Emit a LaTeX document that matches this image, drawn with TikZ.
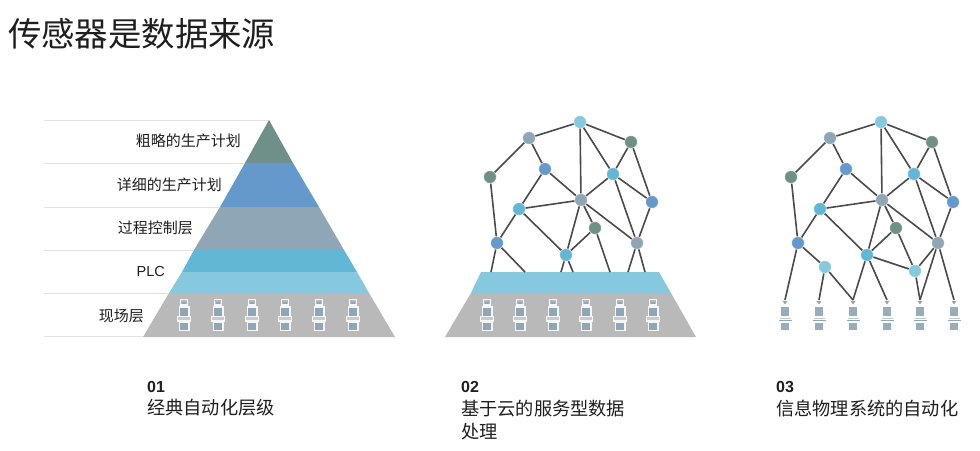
\documentclass[tikz,border=0pt]{standalone}
\usepackage{fontspec}
\setmainfont{Noto Sans CJK SC}
\newfontfamily\latinfont{Liberation Sans}
\definecolor{cgreen}{HTML}{6F9088}
\definecolor{cblue}{HTML}{6599CB}
\definecolor{cslate}{HTML}{8FA6B6}
\definecolor{ccyan}{HTML}{62B7D7}
\definecolor{clight}{HTML}{86C8DE}
\definecolor{cgray}{HTML}{B9B9B9}
\definecolor{crule}{HTML}{E2E2E2}
\definecolor{cedge}{HTML}{4A4A4A}
\definecolor{ctext}{HTML}{1E1E1E}
\tikzset{
  x=1pt,y=-1pt,
  rulerline/.style={draw=crule,line width=1pt},
  edge/.style={draw=cedge,line width=1.6pt},
  dot/.style={circle,minimum size=12.5pt,inner sep=0pt,draw=white,draw opacity=.35,line width=.8pt},
  lvl/.style={anchor=east,text=ctext,inner sep=0pt,font=\fontsize{15}{18}\selectfont},
  captxt/.style={anchor=west,text=ctext,inner sep=0pt,font=\fontsize{18.2}{22}\selectfont},
  capnum/.style={anchor=west,text=ctext,inner sep=0pt,font=\latinfont\bfseries\fontsize{16}{20}\selectfont},
  plainpart/.style={fill=cslate!92!white},
  sensorw/.pic={
    \draw[draw=white!90!cslate,line width=1.2pt] (-3.5,299.5) rectangle (3.5,305);
    \fill[cslate] (-2,301.5) rectangle (2,303.5);
    \fill[white!90!cslate] (-5.5,306) rectangle (5.5,331);
    \fill[cslate] (-3.6,307.5) rectangle (3.6,316);
    \fill[white!90!cslate] (-7.2,316) rectangle (7.2,321.5);
    \fill[cgray!75!white] (-6,317.4) rectangle (6,320);
    \fill[cslate] (-3.6,323) rectangle (3.6,329.5);
  },
  sensorg/.pic={
    \fill[cslate] (-2.5,301) -- (2.5,301) -- (0,304.5) -- cycle;
    \fill[plainpart] (-3.6,307) rectangle (3.6,316);
    \draw[cslate!60!white,line width=.7pt] (-5.5,318) -- (5.5,318);
    \draw[cslate,line width=.8pt] (-6.5,320.5) -- (6.5,320.5);
    \fill[plainpart] (-3.6,323) rectangle (3.6,330);
  },
}
\newcommand{\meshnodes}[2]{%
  \foreach \nm/\px/\py/\cl in {top/580/122/clight,a/529/138/cslate,b/631/142/cgreen,c/490/177/cgreen,d/545/169/cblue,e/613/174/ccyan,f/652/202/cblue,g/581/200/cslate,h/519/209/ccyan,i/595/228/cgreen,j/497/243/cblue,k/566/255/ccyan,l/637/243/cslate}{
    \pgfmathsetmacro{\qx}{\px+#2}
    \node[dot,fill=\cl] (#1\nm) at (\qx,\py) {};
  }%
  \foreach \u/\v in {top/a,top/b,top/g,top/e,a/c,a/d,d/g,d/h,c/j,h/j,h/g,h/k,g/e,g/k,g/i,g/l,e/b,e/f,e/l,b/f,f/l,i/k}{
    \draw[edge] (#1\u) -- (#1\v);
  }%
}
\begin{document}
\begin{tikzpicture}
\useasboundingbox (0,0) rectangle (980,450);
\fill[white] (0,0) rectangle (980,450);

% title
\node[anchor=west,inner sep=0pt,text=ctext,font=\fontsize{33.4}{40}\selectfont] (title) at (8,34) {传感器是数据来源};

% pyramid 1 guide lines
\coordinate (r1a) at (44,120); \coordinate (r1b) at (269,120);
\coordinate (r2a) at (44,163); \coordinate (r2b) at (244,163);
\coordinate (r3a) at (44,207); \coordinate (r3b) at (219,207);
\coordinate (r4a) at (44,250); \coordinate (r4b) at (193,250);
\coordinate (r5a) at (44,293); \coordinate (r5b) at (168,293);
\coordinate (r6a) at (44,336); \coordinate (r6b) at (143,336);
\foreach \n in {1,...,6}{\draw[rulerline] (r\n a) -- (r\n b);}

% pyramid 1
\fill[cgreen] (269,120) -- (245,163) -- (293,163) -- cycle;
\fill[cblue] (245,163) -- (293,163) -- (319,207) -- (220,207) -- cycle;
\fill[cslate] (220,207) -- (319,207) -- (344,250) -- (194,250) -- cycle;
\fill[ccyan] (194,250) -- (344,250) -- (357,272) -- (182,272) -- cycle;
\fill[clight] (182,272) -- (357,272) -- (369,293) -- (169,293) -- cycle;
\fill[cgray] (169,293) -- (369,293) -- (395,337) -- (143,337) -- cycle;
\foreach \sx in {184,218,252,285,319,353}{\pic at (\sx,0) {sensorw};}

\node[lvl] (l1) at (241,141) {粗略的生产计划};
\node[lvl] (l2) at (222,185) {详细的生产计划};
\node[lvl] (l3) at (193,228) {过程控制层};
\node[lvl,font=\latinfont\fontsize{14.5}{18}\selectfont] (l4) at (165,272) {PLC};
\node[lvl] (l5) at (144,316) {现场层};

% pyramid 2 base
\fill[clight] (481,272) -- (659,272) -- (671,293) -- (471,293) -- cycle;
\fill[cgray] (471,293) -- (671,293) -- (696,337) -- (445,337) -- cycle;
\foreach \sx in {487,520,553,586,620,653}{\pic at (\sx,0) {sensorw};}

% mesh 2
\meshnodes{p}{0}
\foreach \cn/\cx in {f1/491,f2/525,f3/561,f4/573,f5/610,f6/628,f7/645}{\coordinate (\cn) at (\cx,272);}
\foreach \u/\v in {pj/f1,pj/f2,pk/f3,pk/f4,pi/f5,pl/f6,pl/f7}{\draw[edge] (\u) -- (\v);}

% mesh 3
\meshnodes{q}{301}
\node[dot,fill=clight] (qm) at (825,267) {};
\node[dot,fill=clight] (qn) at (915,271) {};
\foreach \sx in {785,819,853,887,920,954}{\pic at (\sx,0) {sensorg};}
\foreach \cn/\cx in {s1/785,s2/819,s3/853,s4/887,s5/920,s6/954}{\coordinate (\cn) at (\cx,300);}
\foreach \u/\v in {qj/s1,qj/qm,qm/s2,qm/s3,qk/s3,qk/s4,qk/qn,qi/qn,ql/qn,ql/s5,ql/s6,qn/s5}{\draw[edge] (\u) -- (\v);}

% captions
\node[capnum] (n1) at (147,387) {01};
\node[captxt] (c1) at (147,408) {经典自动化层级};
\node[capnum] (n2) at (461,387) {02};
\node[captxt] (c2a) at (461,409) {基于云的服务型数据};
\node[captxt] (c2b) at (461,432) {处理};
\node[capnum] (n3) at (776,387) {03};
\node[captxt] (c3) at (776,409) {信息物理系统的自动化};
\end{tikzpicture}
\end{document}
